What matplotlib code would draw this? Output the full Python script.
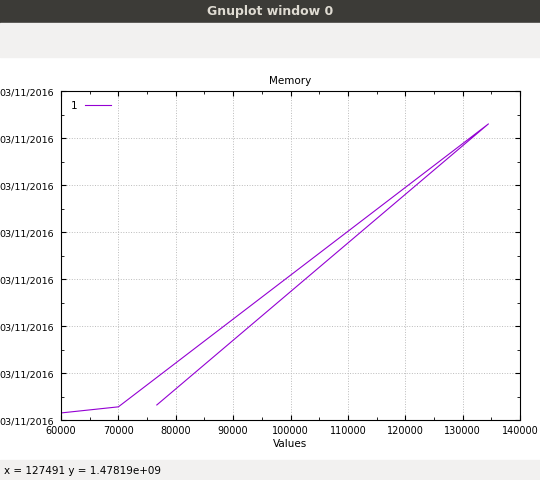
import matplotlib
matplotlib.use("Agg")
import matplotlib.pyplot as plt
from matplotlib.patches import Rectangle

xs = [60000, 70000, 134500, 76700]
ys = [0.15, 0.28, 6.3, 0.32]
ytick_labels = ["03/11/2016"] * 8
yticks = list(range(8))

W, H = 540, 481
fig = plt.figure(figsize=(W/100, H/100), dpi=100)
fig.patch.set_facecolor("white")
fig.patches.append(Rectangle((0, 1-24/H), 1, 24/H, transform=fig.transFigure, color="#3c3b37", zorder=0))
fig.text(0.5, 1-12/H, "Gnuplot window 0", color="#dfdbd2", ha="center", va="center", fontsize=9, weight="bold")
fig.patches.append(Rectangle((0, 1-58/H), 1, 34/H, transform=fig.transFigure, color="#f2f1f0", zorder=0))
fig.patches.append(Rectangle((0, 0), 1, 20/H, transform=fig.transFigure, color="#f2f1f0", zorder=0))
fig.text(4/W, 10/H, "x = 127491 y = 1.47819e+09", fontsize=7.5, va="center")

ax = fig.add_axes([61/W, 1-421/H, (520-61)/W, (421-92)/H])
ax.plot(xs, ys, color="#9400d3", lw=0.8, label="1")
ax.set_xlim(60000, 140000)
ax.set_ylim(0, 7)
ax.set_xticks(range(60000, 140001, 10000))
ax.set_yticks(yticks)
ax.set_yticklabels(ytick_labels)
ax.set_xticks(range(60000, 140001, 5000), minor=True)
ax.set_yticks([i + 0.5 for i in range(7)], minor=True)
ax.tick_params(labelsize=7, direction="in", top=True, right=True, which="both")
ax.tick_params(axis="y", labelsize=6.8, pad=5)
ax.grid(True, ls=":", color="#bbbbbb", lw=0.7)
ax.set_title("Memory", fontsize=7.5)
ax.set_xlabel("Values", fontsize=7.5, labelpad=2)
ax.set_ylabel("Date", fontsize=7.5, labelpad=3)
ax.legend(loc="upper left", frameon=False, fontsize=7.5, markerfirst=False, handlelength=2.5)
fig.savefig("out.png", dpi=100)
